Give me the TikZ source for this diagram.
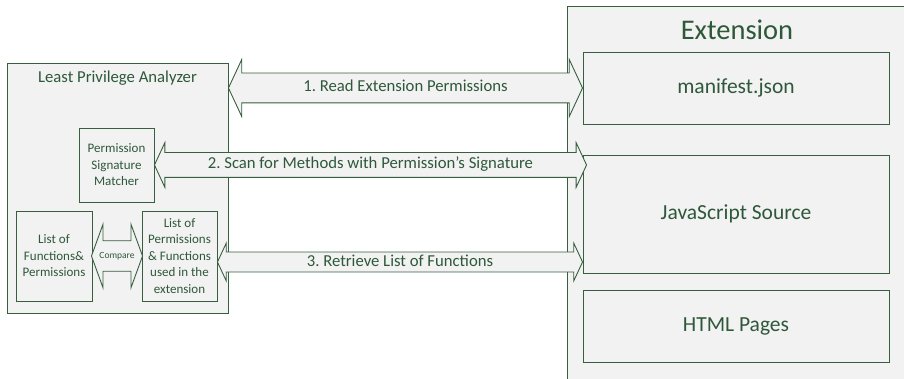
\documentclass[tikz,border=0pt]{standalone}
\usepackage{fontspec}
\setmainfont{Carlito}
\usepackage{xcolor}
\usepackage{tikz}
\usetikzlibrary{shapes.arrows,calc,positioning}
\frenchspacing

\definecolor{boxline}{RGB}{56,94,64}
\definecolor{boxfill}{RGB}{242,242,242}
\definecolor{boxtext}{RGB}{46,88,58}

\tikzset{
	panel/.style={draw=boxline, fill=boxfill, line width=0.9pt, rectangle, inner sep=0pt},
	part/.style={panel, text=boxtext, align=center, font=\fontsize{13}{16.5}\selectfont},
	blkarrow/.style={double arrow, draw=boxline, fill=boxfill, line width=0.9pt, text=boxtext,
		double arrow tip angle=130, inner xsep=2pt, text height=11.5pt, text depth=3.5pt,
		font=\fontsize{16.7}{20}\selectfont},
}

% block arrow between two anchors (same height): style, from, to, name, label
\newcommand{\blockarrow}[5]{%
	\path let \p1=(#2), \p2=(#3) in
		node[blkarrow, #1, minimum height={\x2-\x1}] (#4) at ({(\x1+\x2)/2},\y1) {#5};}

\begin{document}
\begin{tikzpicture}[x=1pt, y=-1pt]
\useasboundingbox (0,0) rectangle (904,379);
\clip (0,0) rectangle (904,379);

% ---- analyzer ----
\node[panel, minimum width=221pt, minimum height=250pt] (lpa) at (117.5,188) {};
\node[text=boxtext, font=\fontsize{16.7}{20}\selectfont] (lpatitle) at (117.5,78) {Least Privilege Analyzer};
\node[part, minimum width=75pt, minimum height=74pt] (psm) at (116.5,165) {Permission\\Signature\\Matcher};
\node[part, minimum width=76pt, minimum height=90pt] (lfp) at (54,256) {List of\\Functions\&\\Permissions};
\node[part, minimum width=75pt, minimum height=90pt] (lpf) at (179.5,256) {List of\\Permissions\\\& Functions\\used in the\\extension};

% ---- extension ----
\node[panel, minimum width=348pt, minimum height=384pt] (ext) at (741,198) {};
\node[text=boxtext, font=\fontsize{28.5}{32}\selectfont] (exttitle) at (737,30) {Extension};
\node[part, minimum width=306pt, minimum height=72pt, font=\fontsize{21.5}{26}\selectfont] (man) at (736,88) {manifest.json};
\node[part, minimum width=306pt, minimum height=118pt, font=\fontsize{21.5}{26}\selectfont] (js) at (736,214) {JavaScript Source};
\node[part, minimum width=306pt, minimum height=72pt, font=\fontsize{21.5}{26}\selectfont] (html) at (736,326) {HTML Pages};

% ---- block arrows ----
\coordinate (a3from) at ([yshift=-6pt]lpf.east);
\blockarrow{inner ysep=7pt, double arrow head extend=13.5pt}{lpa.east |- man.west}{man.west}{a1}{1. Read Extension Permissions}
\blockarrow{inner ysep=4.5pt, double arrow head extend=10pt}{psm.east}{[xshift=4pt]js.west |- psm.east}{a2}{2. Scan for Methods with Permission’s Signature}
\blockarrow{inner ysep=2pt, double arrow head extend=9pt}{a3from}{js.west |- a3from}{a3}{3. Retrieve List of Functions}
\blockarrow{double arrow tip angle=140, inner ysep=10.5pt, double arrow head extend=16.5pt,
	font=\fontsize{9.5}{11}\selectfont, text height=7pt, text depth=1.5pt}{lfp.east}{lpf.west}{cmp}{Compare}
\end{tikzpicture}
\end{document}
